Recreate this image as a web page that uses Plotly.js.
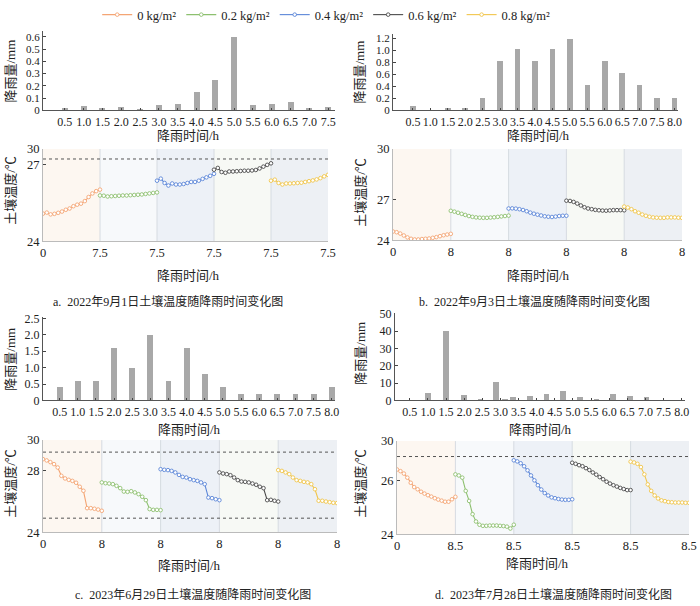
<!DOCTYPE html>
<html>
<head>
<meta charset="utf-8">
<script src="https://cdn.plot.ly/plotly-3.0.1.min.js"></script>
<style>body{margin:0;background:#fff}</style>
</head>
<body>
<div id="chart" style="width:700px;height:606px"></div>
<script>
var seriesNames = ['0 kg/m²', '0.2 kg/m²', '0.4 kg/m²', '0.6 kg/m²', '0.8 kg/m²'];
var seriesColors = ['#f4a574', '#8dc06f', '#5b86d8', '#4a4a4a', '#f1c54a'];
var shadeColors = ['#fdf7f1', '#f7f9fb', '#edf1f7', '#f7f9f5', '#edf0f4'];

// a. 2022-09-01
var aHours = ['0.5','1.0','1.5','2.0','2.5','3.0','3.5','4.0','4.5','5.0','5.5','6.0','6.5','7.0','7.5'];
var aRain = [0.02, 0.035, 0.015, 0.03, 0.008, 0.04, 0.05, 0.15, 0.25, 0.6, 0.04, 0.05, 0.065, 0.02, 0.03];
var aRainTicks = ['0','0.1','0.2','0.3','0.4','0.5','0.6'];
var aSegLabel = '7.5';
var aTempTicks = ['24', '27', '30'];
var aRef = [27.23];
var aTemp = [
  [25.09,25.13,25.06,25.08,25.12,25.17,25.24,25.29,25.38,25.44,25.48,25.58,25.74,25.88,25.97,26.03],
  [25.80,25.79,25.76,25.77,25.78,25.79,25.80,25.80,25.81,25.82,25.83,25.84,25.86,25.88,25.90,25.92],
  [26.38,26.46,26.29,26.19,26.27,26.23,26.23,26.25,26.29,26.33,26.33,26.38,26.45,26.51,26.57,26.65],
  [26.81,26.88,26.72,26.69,26.74,26.74,26.75,26.76,26.77,26.77,26.78,26.80,26.86,26.93,27.00,27.06],
  [26.38,26.42,26.29,26.23,26.27,26.27,26.28,26.29,26.30,26.33,26.36,26.39,26.43,26.48,26.55,26.61]
];

// b. 2022-09-03
var bHours = ['0.5','1.0','1.5','2.0','2.5','3.0','3.5','4.0','4.5','5.0','5.5','6.0','6.5','7.0','7.5','8.0'];
var bRain = [0.08, 0.005, 0.04, 0.04, 0.2, 0.82, 1.02, 0.82, 1.02, 1.2, 0.42, 0.82, 0.62, 0.42, 0.2, 0.2];
var bRainTicks = ['0','0.2','0.4','0.6','0.8','1.0','1.2'];
var bSegLabel = '8';
var bTempTicks = ['24', '27', '30'];
var bRef = [];
var bTemp = [
  [24.65,24.60,24.50,24.36,24.22,24.12,24.07,24.07,24.10,24.12,24.14,24.19,24.24,24.31,24.38,24.43,24.48],
  [26.16,26.10,26.02,25.94,25.86,25.78,25.72,25.68,25.66,25.65,25.65,25.67,25.69,25.72,25.75,25.78,25.81],
  [26.33,26.34,26.32,26.28,26.22,26.13,26.03,25.95,25.88,25.82,25.76,25.73,25.71,25.74,25.78,25.80,25.80],
  [26.90,26.88,26.81,26.69,26.55,26.42,26.33,26.28,26.23,26.20,26.18,26.17,26.19,26.21,26.21,26.21,26.20],
  [26.47,26.40,26.28,26.13,26.02,25.89,25.80,25.73,25.68,25.66,25.65,25.65,25.68,25.68,25.68,25.66,25.65]
];

// c. 2023-06-29
var cHours = ['0.5','1.0','1.5','2.0','2.5','3.0','3.5','4.0','4.5','5.0','5.5','6.0','6.5','7.0','7.5','8.0'];
var cRain = [0.4, 0.6, 0.6, 1.6, 1.0, 2.0, 0.6, 1.6, 0.8, 0.4, 0.2, 0.2, 0.2, 0.2, 0.2, 0.4];
var cRainTicks = ['0','0.5','1.0','1.5','2.0','2.5'];
var cSegLabel = '8';
var cTempTicks = ['24', '28', '30'];
var cRef = [29.22, 24.93];
var cTemp = [
  [28.76,28.68,28.57,28.44,28.22,27.68,27.51,27.42,27.35,27.23,26.97,26.71,25.58,25.58,25.54,25.49,25.41],
  [27.25,27.20,27.18,27.14,27.03,26.88,26.66,26.64,26.68,26.60,26.49,26.32,26.10,25.52,25.47,25.47,25.45],
  [28.11,28.07,28.05,28.00,27.90,27.74,27.61,27.57,27.46,27.40,27.35,27.25,27.14,26.27,26.23,26.16,26.10],
  [27.90,27.83,27.79,27.72,27.57,27.40,27.31,27.29,27.25,27.18,27.10,26.97,26.88,26.10,26.12,26.06,26.01],
  [28.05,28.00,27.90,27.79,27.57,27.40,27.35,27.29,27.25,27.14,26.81,26.06,26.06,26.01,25.97,25.93,25.91]
];

// d. 2023-07-28
var dHours = ['0.5','1.0','1.5','2.0','2.5','3.0','3.5','4.0','4.5','5.0','5.5','6.0','6.5','7.0','7.5','8.0'];
var dRainTime = [1.0, 1.5, 2.0, 2.45, 2.87, 3.12, 3.35, 3.81, 4.27, 4.73, 5.19, 5.65, 6.11, 6.57, 7.03, 7.49];
var dRain = [4, 40, 3, 0.5, 10.8, 1.0, 2.2, 2.8, 3.8, 5.2, 1.8, 0.6, 3.8, 2.3, 1.8, 0.4];
var dRainTicks = ['0','10','20','30','40','50'];
var dSegLabel = '8.5';
var dTempTicks = ['24', '26', '30'];
var dRef = [26.88];
var dTemp = [
  [26.40,26.34,26.25,26.10,25.91,25.75,25.67,25.58,25.51,25.45,25.40,25.34,25.29,25.25,25.21,25.21,25.30,25.39],
  [26.22,26.18,26.10,25.61,25.24,24.75,24.48,24.36,24.32,24.32,24.33,24.33,24.33,24.32,24.31,24.29,24.22,24.36],
  [26.74,26.70,26.63,26.52,26.37,26.18,26.00,25.82,25.66,25.53,25.44,25.37,25.34,25.31,25.29,25.28,25.28,25.30],
  [26.65,26.61,26.56,26.52,26.45,26.38,26.29,26.21,26.12,26.04,25.95,25.88,25.82,25.77,25.72,25.68,25.64,25.64],
  [26.69,26.66,26.61,26.49,26.22,25.85,25.61,25.44,25.33,25.26,25.23,25.20,25.19,25.18,25.18,25.18,25.17,25.17]
];

var FONT = '"Liberation Serif", "Times New Roman", "Noto Sans CJK SC", serif';
var traces = [];
var shapes = [];
var annotations = [];
var layout = {
  width: 700, height: 606,
  margin: {l: 0, r: 0, t: 0, b: 0},
  paper_bgcolor: '#fff', plot_bgcolor: 'rgba(0,0,0,0)',
  font: {family: FONT, size: 12, color: '#222'},
  showlegend: true,
  legend: {orientation: 'h', x: 0.466, xanchor: 'center', y: 0.982, yanchor: 'middle',
           font: {family: FONT, size: 12.5, color: '#222'}, itemwidth: 30},
  bargap: 0
};

function px2dom(a, b, size) { return [a / size, b / size]; }
function py2dom(top, bottom) { return [1 - bottom / 606, 1 - top / 606]; }

function rainPanel(n, hours, rain, rainX, ticks, xr, yr, box, yFont) {
  var xs = rainX || hours.map(parseFloat);
  traces.push({
    type: 'bar', x: xs, y: rain, width: 0.16,
    marker: {color: '#a8a8a8'}, showlegend: false, hoverinfo: 'x+y',
    xaxis: 'x' + n, yaxis: 'y' + n
  });
  layout['xaxis' + n] = {
    domain: px2dom(box[0], box[1], 700), range: xr, anchor: 'y' + n,
    tickvals: hours.map(parseFloat), ticktext: hours, ticks: 'inside', ticklen: 2, tickangle: 0,
    showline: true, linecolor: '#555', linewidth: 1, showgrid: false, zeroline: false,
    tickfont: {family: FONT, size: 12}
  };
  layout['yaxis' + n] = {
    domain: py2dom(box[2], box[3]), range: yr, anchor: 'x' + n,
    tickvals: ticks.map(parseFloat), ticktext: ticks, ticks: 'inside', ticklen: 3,
    showline: true, linecolor: '#555', linewidth: 1, showgrid: false, zeroline: false,
    tickfont: {family: FONT, size: yFont || 12}
  };
}

function tempPanel(n, temp, segLabel, tTicks, yTop, refs, box, legend) {
  var seg = parseFloat(segLabel);
  var xa = 'x' + n, ya = 'y' + n;
  temp.forEach(function (vals, k) {
    var step = seg / (vals.length - 1);
    traces.push({
      type: 'scatter', mode: 'lines+markers',
      x: vals.map(function (v, j) { return k * seg + j * step; }), y: vals,
      name: seriesNames[k], showlegend: legend, legendgroup: 'g' + k,
      line: {color: seriesColors[k], width: 1.1},
      marker: {symbol: 'circle', size: 3.6, color: '#fff', line: {color: seriesColors[k], width: 0.9}},
      xaxis: xa, yaxis: ya
    });
    shapes.push({type: 'rect', xref: xa, yref: ya + ' domain', x0: k * seg, x1: (k + 1) * seg, y0: 0, y1: 1,
                 fillcolor: shadeColors[k], line: {width: 0}, layer: 'below'});
    if (k > 0) {
      shapes.push({type: 'line', xref: xa, yref: ya + ' domain', x0: k * seg, x1: k * seg, y0: 0, y1: 1,
                   line: {color: '#d6dbe1', width: 1}, layer: 'below'});
    }
  });
  refs.forEach(function (r) {
    shapes.push({type: 'line', xref: xa + ' domain', yref: ya, x0: 0, x1: 1, y0: r, y1: r,
                 line: {color: '#555', width: 1, dash: 'dot'}});
  });
  var tv = [], tt = [];
  for (var k = 0; k <= temp.length; k++) { tv.push(k * seg); tt.push(k === 0 ? '0' : segLabel); }
  layout['xaxis' + n] = {
    domain: px2dom(box[0], box[1], 700), range: [0, seg * temp.length], anchor: ya,
    tickvals: tv, ticktext: tt, ticks: '', tickangle: 0, showline: true, linecolor: '#bbb', linewidth: 1,
    showgrid: false, zeroline: false, tickfont: {family: FONT, size: 12.5}
  };
  layout['yaxis' + n] = {
    domain: py2dom(box[2], box[3]), range: [24, yTop], anchor: xa,
    tickvals: [24, parseFloat(tTicks[1]), yTop], ticktext: tTicks, ticks: 'inside', ticklen: 3,
    showline: true, linecolor: '#bbb', linewidth: 1, showgrid: false, zeroline: false,
    tickfont: {family: FONT, size: 12.5}
  };
}

function label(x, y, text, size, angle) {
  annotations.push({xref: 'paper', yref: 'paper', x: x / 700, y: 1 - y / 606, text: text,
    showarrow: false, xanchor: 'center', yanchor: 'middle', textangle: angle || 0,
    font: {family: FONT, size: size, color: '#222'}});
}

rainPanel(1, aHours, aRain, null, aRainTicks, [-0.08, 7.68], [0, 0.65], [43, 335, 27, 107], 11);
tempPanel(2, aTemp, aSegLabel, aTempTicks, 27.62, aRef, [43, 328, 146, 239], true);
rainPanel(3, bHours, bRain, null, bRainTicks, [-0.07, 8.1], [0, 1.28], [393, 678, 30, 107], 11);
tempPanel(4, bTemp, bSegLabel, bTempTicks, 30.67, bRef, [393, 682, 146, 238], false);
rainPanel(5, cHours, cRain, null, cRainTicks, [0.04, 8.09], [0, 2.55], [43, 335, 315, 399]);
tempPanel(6, cTemp, cSegLabel, cTempTicks, 30, cRef, [43, 337, 439, 532], false);
rainPanel(7, dHours, dRain, dRainTime, dRainTicks, [0.09, 8.09], [0, 50.5], [395, 685, 311, 399]);
tempPanel(8, dTemp, dSegLabel, dTempTicks, 27.45, dRef, [397, 689, 440, 534], false);

// axis titles and captions
label(11, 68, '降雨量/mm', 13, -90);
label(360, 68, '降雨量/mm', 13, -90);
label(11, 358, '降雨量/mm', 13, -90);
label(361, 352, '降雨量/mm', 13, -90);
label(11, 188, '土壤温度/℃', 13, -90);
label(361, 190, '土壤温度/℃', 13, -90);
label(11, 483, '土壤温度/℃', 13, -90);
label(361, 483, '土壤温度/℃', 13, -90);
label(188, 132, '降雨时间/h', 13);
label(538, 132, '降雨时间/h', 13);
label(190, 428, '降雨时间/h', 13);
label(540, 428, '降雨时间/h', 13);
label(188, 273, '降雨时间/h', 13);
label(538, 273, '降雨时间/h', 13);
label(190, 565, '降雨时间/h', 13);
label(537, 563, '降雨时间/h', 13);
label(168, 299, 'a.  2022年9月1日土壤温度随降雨时间变化图', 12);
label(534, 299, 'b.  2022年9月3日土壤温度随降雨时间变化图', 12);
label(193, 594, 'c.  2023年6月29日土壤温度随降雨时间变化图', 12);
label(553, 594, 'd.  2023年7月28日土壤温度随降雨时间变化图', 12);

layout.shapes = shapes;
layout.annotations = annotations;
Plotly.newPlot('chart', traces, layout, {displayModeBar: false, staticPlot: true});
</script>
</body>
</html>
